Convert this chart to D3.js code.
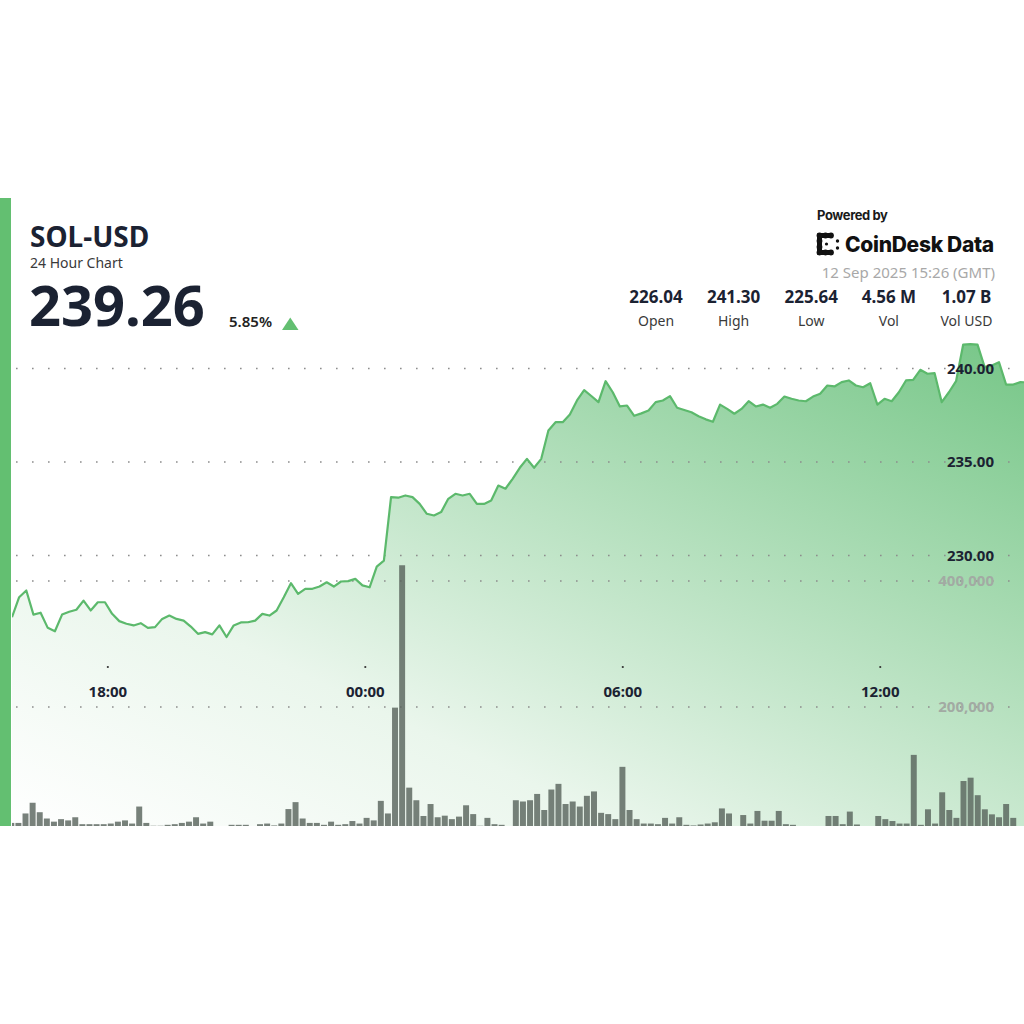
<!DOCTYPE html>
<html>
<head>
<meta charset="utf-8">
<script src="https://cdn.jsdelivr.net/npm/d3@7"></script>
<style>
  body { margin: 0; background: #fff; }
  svg { display: block; font-family: 'Noto Sans', 'Open Sans', sans-serif; }
</style>
</head>
<body>
<div id="chart"></div>
<script>
// SOL-USD 10 minute closes
const prices = [
  226.70, 227.77, 228.13, 226.84, 226.94, 226.13, 225.95, 226.84, 226.99, 227.10,
  227.59, 227.06, 227.50, 227.50, 226.88, 226.49, 226.35, 226.26, 226.38, 226.13,
  226.17, 226.61, 226.79, 226.61, 226.52, 226.20, 225.81, 225.90, 225.78, 226.26,
  225.64, 226.26, 226.42, 226.43, 226.52, 226.88, 226.79, 227.06, 227.77, 228.52,
  227.95, 228.22, 228.22, 228.34, 228.57, 228.34, 228.61, 228.63, 228.75, 228.40,
  228.30, 229.41, 229.73, 233.12, 233.09, 233.21, 233.12, 232.76, 232.23, 232.14,
  232.32, 233.03, 233.30, 233.21, 233.30, 232.76, 232.76, 232.94, 233.74, 233.57,
  234.10, 234.69, 235.17, 234.69, 235.17, 236.68, 237.13, 237.13, 237.54, 238.29,
  238.84, 238.53, 238.20, 239.32, 238.73, 237.97, 238.02, 237.47, 237.60, 237.75,
  238.20, 238.29, 238.52, 237.90, 237.78, 237.66, 237.45, 237.28, 237.15, 238.07,
  237.84, 237.58, 237.84, 238.25, 237.97, 238.07, 237.90, 238.11, 238.50, 238.38,
  238.29, 238.25, 238.50, 238.65, 239.09, 239.04, 239.27, 239.36, 239.09, 239.00,
  239.21, 238.07, 238.38, 238.25, 238.73, 239.36, 239.39, 239.93, 239.72, 239.75,
  238.20, 238.73, 239.32, 241.28, 241.30, 241.28, 240.07, 240.16, 240.34, 239.14,
  239.14, 239.27, 239.26
];

// volume per bar
const volumes = [
  16000, 16000, 31000, 48000, 33000, 23000, 18000, 22000, 20000, 25000,
  14000, 14000, 14000, 14000, 15000, 18000, 20000, 15000, 42000, 16000,
  11500, 11500, 13000, 14000, 16000, 18000, 25000, 15000, 18000, 8000,
  10000, 13000, 13000, 13000, 8000, 14000, 15000, 12000, 15000, 38000,
  49000, 23000, 16000, 16000, 13000, 18000, 13000, 14000, 19000, 15000,
  24000, 20000, 51000, 31000, 199000, 425000, 72000, 52000, 27000, 46000,
  25000, 27500, 22000, 26000, 44000, 30000, 11500, 24000, 14000, 13000,
  11000, 52000, 50000, 52000, 62000, 36500, 69000, 78000, 46000, 50000,
  42000, 59000, 66000, 32000, 30000, 22000, 105000, 36500, 22000, 15000,
  15000, 14000, 24000, 15000, 25000, 13000, 12000, 13500, 15000, 17000,
  39000, 31000, 8000, 28500, 15000, 35000, 19500, 19500, 35000, 14000,
  13000, 10000, 10000, 8000, 5000, 27000, 27000, 14000, 34000, 13500,
  10000, 8000, 27000, 22000, 19000, 15000, 15000, 124000, 13000, 37600,
  15000, 64600, 36500, 24000, 82500, 87800, 60000, 37600, 29600, 25000,
  46000, 24000
];

const startTime = Date.UTC(2025, 8, 11, 15, 46);
const endTime = Date.UTC(2025, 8, 12, 15, 21);
const stepMinutes = 10;

const priceTicks = [230, 235, 240];
const volumeTicks = [200000, 400000];

const statValues = ['226.04', '241.30', '225.64', '4.56 M', '1.07 B'];
const statLabels = ['Open', 'High', 'Low', 'Vol', 'Vol USD'];

const drawChart = () => {
  let width = 1024;
  let height = 1024;
  let plot = { left: 12, right: 1024, top: 198, bottom: 826 };

  let svg = d3
    .select('#chart')
    .append('svg')
    .attr('width', width)
    .attr('height', height);

  let times = prices.map((d, i) => new Date(startTime + i * stepMinutes * 60000));

  let x = d3
    .scaleUtc()
    .domain([new Date(startTime), new Date(endTime)])
    .range([plot.left, plot.right]);
  let y = d3.scaleLinear().domain([230, 240]).range([555.5, 368.5]);
  let yVol = d3.scaleLinear().domain([0, 400000]).range([833, 581]);
  let xVol = d3
    .scaleBand()
    .domain(d3.range(volumes.length))
    .range([7.75, 1016.8])
    .paddingInner(0.16)
    .paddingOuter(0.08);

  let defs = svg.append('defs');

  defs
    .append('clipPath')
    .attr('id', 'plot-clip')
    .append('rect')
    .attr('x', plot.left)
    .attr('y', plot.top)
    .attr('width', plot.right - plot.left)
    .attr('height', plot.bottom - plot.top);

  let grad = defs
    .append('linearGradient')
    .attr('id', 'area-fill')
    .attr('x1', 0)
    .attr('y1', 1)
    .attr('x2', 1)
    .attr('y2', 0);
  grad.append('stop').attr('offset', '0%').attr('stop-color', '#ffffff');
  grad.append('stop').attr('offset', '30%').attr('stop-color', '#eaf6ec');
  grad.append('stop').attr('offset', '100%').attr('stop-color', '#76c687');

  // green strip on the left
  svg
    .append('rect')
    .attr('x', 0)
    .attr('y', plot.top)
    .attr('width', 11)
    .attr('height', plot.bottom - plot.top)
    .attr('fill', '#63bf71');

  let chart = svg.append('g').attr('clip-path', 'url(#plot-clip)');

  let area = d3
    .area()
    .x((d, i) => x(times[i]))
    .y0(plot.bottom)
    .y1((d) => y(d));

  chart
    .append('path')
    .datum(prices)
    .attr('d', area)
    .attr('fill', 'url(#area-fill)');

  // dotted grid lines
  let gridYs = priceTicks.map((d) => y(d)).concat(volumeTicks.map((d) => yVol(d)));
  chart
    .selectAll('.grid')
    .data(gridYs)
    .enter()
    .append('line')
    .attr('class', 'grid')
    .attr('x1', 16)
    .attr('x2', plot.right)
    .attr('y1', (d) => d)
    .attr('y2', (d) => d)
    .attr('stroke', '#8d8d8d')
    .attr('stroke-width', 1.6)
    .attr('stroke-dasharray', '1.6 14.4');

  // volume bars
  chart
    .selectAll('.vol')
    .data(volumes)
    .enter()
    .append('rect')
    .attr('class', 'vol')
    .attr('x', (d, i) => xVol(i))
    .attr('width', xVol.bandwidth())
    .attr('y', (d) => yVol(d))
    .attr('height', (d) => plot.bottom - yVol(d))
    .attr('fill', '#56625a')
    .attr('opacity', 0.8);

  let line = d3
    .line()
    .x((d, i) => x(times[i]))
    .y((d) => y(d));

  chart
    .append('path')
    .datum(prices)
    .attr('d', line)
    .attr('fill', 'none')
    .attr('stroke', '#5cb96c')
    .attr('stroke-width', 2.2)
    .attr('stroke-linejoin', 'round');

  // time axis
  let timeTicks = x.ticks(d3.utcHour.every(6));
  let timeFormat = d3.utcFormat('%H:%M');

  svg
    .selectAll('.tick-dot')
    .data(timeTicks)
    .enter()
    .append('circle')
    .attr('class', 'tick-dot')
    .attr('cx', (d) => x(d))
    .attr('cy', 667)
    .attr('r', 1.1)
    .attr('fill', '#333');

  svg
    .selectAll('.time-label')
    .data(timeTicks)
    .enter()
    .append('text')
    .attr('class', 'time-label')
    .attr('x', (d) => x(d))
    .attr('y', 697)
    .attr('text-anchor', 'middle')
    .attr('font-size', 15)
    .attr('font-weight', 'bold')
    .attr('fill', '#1b2232')
    .text((d) => timeFormat(d));

  // value axis labels
  svg
    .selectAll('.price-label')
    .data(priceTicks)
    .enter()
    .append('text')
    .attr('class', 'price-label')
    .attr('x', 994)
    .attr('y', (d) => y(d))
    .attr('dy', '0.36em')
    .attr('text-anchor', 'end')
    .attr('font-size', 15)
    .attr('font-weight', 'bold')
    .attr('fill', '#1b2232')
    .text((d) => d3.format('.2f')(d));

  svg
    .selectAll('.vol-label')
    .data(volumeTicks)
    .enter()
    .append('text')
    .attr('class', 'vol-label')
    .attr('x', 994)
    .attr('y', (d) => yVol(d))
    .attr('dy', '0.36em')
    .attr('text-anchor', 'end')
    .attr('font-size', 15)
    .attr('font-weight', 'bold')
    .attr('fill', '#a2aaa3')
    .text((d) => d3.format(',')(d));

  // header, left side
  svg
    .append('text')
    .attr('x', 30)
    .attr('y', 247)
    .attr('font-size', 28)
    .attr('font-weight', 'bold')
    .attr('fill', '#1b2232')
    .text('SOL-USD');

  svg
    .append('text')
    .attr('x', 30)
    .attr('y', 268)
    .attr('font-size', 14)
    .attr('fill', '#3a3a3a')
    .text('24 Hour Chart');

  svg
    .append('text')
    .attr('x', 29)
    .attr('y', 326)
    .attr('font-size', 56)
    .attr('font-weight', 'bold')
    .attr('fill', '#1b2232')
    .text('239.26');

  svg
    .append('text')
    .attr('x', 229)
    .attr('y', 327)
    .attr('font-size', 15)
    .attr('font-weight', 600)
    .attr('fill', '#222')
    .text('5.85%');

  svg
    .append('path')
    .attr('d', 'M282,330 L298.5,330 L290.25,317.5 Z')
    .attr('fill', '#63bf71');

  // header, right side
  svg
    .append('text')
    .attr('x', 817)
    .attr('y', 220)
    .attr('font-family', 'Inter, sans-serif')
    .attr('font-size', 13)
    .attr('font-weight', 'bold')
    .attr('letter-spacing', -0.4)
    .attr('fill', '#1a1a1a')
    .text('Powered by');

  let logo = svg.append('g').attr('transform', 'translate(817,233)').attr('fill', '#111');
  logo.append('rect').attr('x', 0).attr('y', 0).attr('width', 5).attr('height', 22).attr('rx', 2);
  logo.append('rect').attr('x', 0).attr('y', 0).attr('width', 15).attr('height', 5).attr('rx', 2);
  logo.append('rect').attr('x', 0).attr('y', 17).attr('width', 15).attr('height', 5).attr('rx', 2);
  [[2.5, 2.5], [8.5, 2.5], [14, 2.5], [2.5, 8], [2.5, 14], [2.5, 19.5], [8.5, 19.5], [14, 19.5]].forEach((p) => {
    logo.append('circle').attr('cx', p[0]).attr('cy', p[1]).attr('r', 2.9);
  });
  logo.append('circle').attr('cx', 9.5).attr('cy', 11).attr('r', 1.6);
  logo.append('circle').attr('cx', 20.5).attr('cy', 8).attr('r', 1.7);
  logo.append('circle').attr('cx', 20.5).attr('cy', 15).attr('r', 1.7);

  svg
    .append('text')
    .attr('x', 845)
    .attr('y', 252)
    .attr('font-family', 'Inter, sans-serif')
    .attr('font-size', 21)
    .attr('font-weight', 800)
    .attr('letter-spacing', -0.3)
    .attr('fill', '#111')
    .text('CoinDesk Data');

  svg
    .append('text')
    .attr('x', 995)
    .attr('y', 278)
    .attr('text-anchor', 'end')
    .attr('font-size', 15)
    .attr('fill', '#a8a8a8')
    .text('12 Sep 2025 15:26 (GMT)');

  let statX = d3.scalePoint().domain(statLabels).range([656, 966.5]);

  svg
    .selectAll('.stat-value')
    .data(statValues)
    .enter()
    .append('text')
    .attr('class', 'stat-value')
    .attr('x', (d, i) => statX(statLabels[i]))
    .attr('y', 303)
    .attr('text-anchor', 'middle')
    .attr('font-size', 17)
    .attr('font-weight', 'bold')
    .attr('fill', '#1b2232')
    .text((d) => d);

  svg
    .selectAll('.stat-label')
    .data(statLabels)
    .enter()
    .append('text')
    .attr('class', 'stat-label')
    .attr('x', (d) => statX(d))
    .attr('y', 325.5)
    .attr('text-anchor', 'middle')
    .attr('font-size', 14)
    .attr('fill', '#3a3a3a')
    .text((d) => d);
};

drawChart();
</script>
</body>
</html>
